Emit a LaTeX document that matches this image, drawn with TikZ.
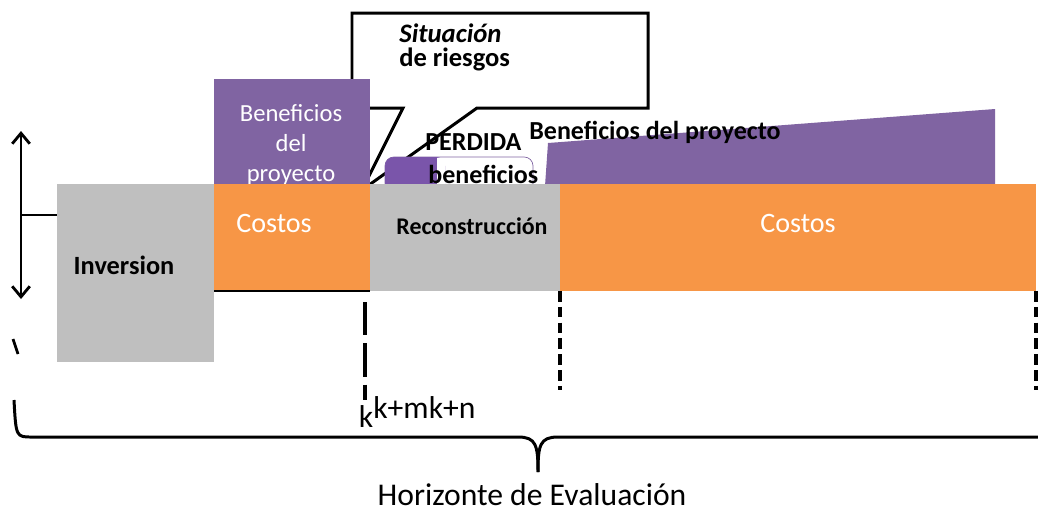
\documentclass[tikz,border=0pt]{standalone}
\usepackage{fontspec}
\setmainfont{Carlito}
\usetikzlibrary{arrows.meta}
\definecolor{naranja}{HTML}{F79646}
\definecolor{gris}{HTML}{BFBFBF}
\definecolor{morado}{HTML}{8064A2}
\definecolor{moradoosc}{HTML}{7A55AA}
\tikzset{
    bloque/.style = {anchor = north west, inner sep = 0pt, outer sep = 0pt},
    etiqueta/.style = {inner sep = 0pt, font = \fontsize{16}{19}\selectfont},
    negrita/.style = {inner sep = 0pt, font = \fontsize{14}{17}\selectfont\bfseries},
    corte/.style = {line width = 2.3pt},
    eje/.style = {line width = 1.6pt, {Straight Barb[length=6pt, width=10pt]}-{Straight Barb[length=6pt, width=10pt]}}
}
\begin{document}
\begin{tikzpicture}
        [
            x = 0.02cm, y = -0.02cm
        ]
        \useasboundingbox[fill = white] (0,0) rectangle (1038,512);
        % llamada
        \draw[line width = 1.7pt, fill = white] (352,13) -- (648,13) -- (648,108) -- (477,108) -- (362,190) -- (403,108) -- (352,108) -- cycle;
        \node[negrita, anchor = base west, font = \fontsize{15.2}{18}\selectfont\bfseries\itshape] (sit) at (399,42) {Situación};
        \node[negrita, anchor = base west, font = \fontsize{15.1}{18}\selectfont\bfseries] (riesgo) at (399,66) {de riesgos};
        % beneficios
        \fill[morado] (545,186) -- (548,143) -- (995,109) -- (995,186) -- cycle;
        \node[bloque, fill = morado, minimum width = 3.12cm, minimum height = 2.10cm] (benA) at (214,79) {};
        \node[etiqueta, text = white, align = center, font = \fontsize{14}{17}\selectfont] (benAt) at (291,145) {Beneficios\\del\\proyecto};
        \draw[morado, fill = white, rounded corners = 5pt] (385,157) rectangle (533,192);
        \fill[moradoosc, rounded corners = 5pt] (385,157) rectangle (445,192);
        \fill[moradoosc] (430,157) rectangle (437,192);
        \fill[white] (437,158) rectangle (445,192);
        % bloques
        \node[bloque, fill = gris, minimum width = 3.14cm, minimum height = 3.56cm] (inv) at (57,184) {};
        \node[bloque, fill = naranja, minimum width = 3.12cm, minimum height = 2.14cm] (costA) at (214,184) {};
        \node[bloque, fill = gris, minimum width = 3.80cm, minimum height = 2.14cm] (recon) at (370,184) {};
        \node[bloque, fill = naranja, minimum width = 9.52cm, minimum height = 2.14cm] (costB) at (560,184) {};
        \draw[line width = 1pt] (costA.south west) -- (costA.south east);
        % textos
        \node[negrita, font = \fontsize{15}{18}\selectfont\bfseries] (invt) at (124,265) {Inversion};
        \node[etiqueta, text = white] (costAt) at (274,223) {Costos};
        \node[negrita, font = \fontsize{13.6}{16}\selectfont\bfseries] (recont) at (472,226) {Reconstrucción};
        \node[etiqueta, text = white] (costBt) at (798,223) {Costos};
        \node[negrita, anchor = west, font = \fontsize{14.8}{18}\selectfont\bfseries] (perd) at (425,142) {PERDIDA};
        \node[negrita, anchor = west, font = \fontsize{14.8}{18}\selectfont\bfseries] (perdb) at (428,174) {beneficios};
        \node[negrita, anchor = west, font = \fontsize{14.8}{18}\selectfont\bfseries] (benB) at (529,132) {Beneficios del proyecto};
        % eje izquierdo
        \coordinate (ejeA) at (21,131);
        \coordinate (ejeB) at (21,299);
        \coordinate (ejeM) at (21,215);
        \draw[eje] (ejeA) -- (ejeB);
        \draw[line width = 1.6pt] (ejeM) -- (inv.west |- ejeM);
        \draw[line width = 1.6pt] (13,339) -- (18,354);
        % cortes
        \draw[corte, dash pattern = on 19pt off 4.5pt] (365,302) -- (365,400);
        \draw[corte, dash pattern = on 6pt off 3pt] (recon.south east) -- ++(0,99);
        \draw[corte, dash pattern = on 6pt off 3pt] (costB.south east) -- ++(0,99);
        \node[etiqueta, font = \fontsize{18}{20}\selectfont] (k) at (366,417) {k};
        \node[etiqueta, anchor = west, font = \fontsize{18}{20}\selectfont] (km) at (373,408) {k+mk+n};
        % horizonte
        \coordinate (hor) at (538,472);
        \draw[line width = 1.7pt] (14,400) .. controls (16,437) .. (32,437) -- (518,437) .. controls (536,437) and (538,445) .. (hor);
        \draw[line width = 1.7pt] (hor) .. controls (538,445) and (540,437) .. (558,437) -- (1038,437);
        \node[etiqueta, font = \fontsize{18}{21}\selectfont] (hort) at (532,495) {Horizonte de Evaluación};
    \end{tikzpicture}
\end{document}
